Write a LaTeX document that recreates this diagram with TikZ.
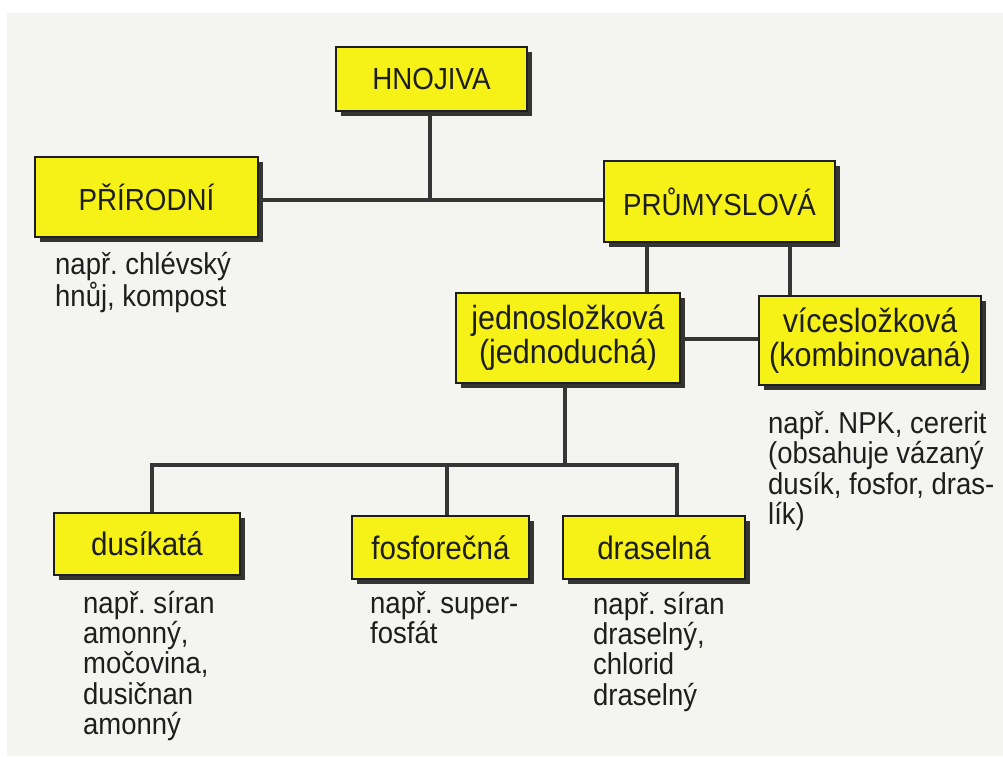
\documentclass[tikz,border=0pt]{standalone}
\usepackage{fontspec}
\setmainfont{Liberation Sans}[FakeStretch=0.91]
\usetikzlibrary{shadows,backgrounds}
\frenchspacing

\definecolor{boxyellow}{RGB}{246,242,24}
\definecolor{shadowgray}{RGB}{52,52,50}
\definecolor{ink}{RGB}{30,30,30}
\definecolor{paper}{RGB}{244,244,241}

% left-aligned note whose first baseline is the node's base
\newcommand\notelines[1]{\begin{tabular}[t]{@{}l@{}}#1\end{tabular}}

\begin{document}
\begin{tikzpicture}[x=1pt,y=-1pt,
  box/.style={draw=ink, line width=1.6pt, fill=boxyellow, inner sep=0pt,
    text=ink, align=center,
    general shadow={fill=shadowgray, shadow xshift=5pt, shadow yshift=-5pt}},
  toplabel/.style={font=\fontsize{30.5}{33}\selectfont},
  midlabel/.style={font=\fontsize{33.5}{34}\selectfont},
  lowlabel/.style={font=\fontsize{32.5}{34}\selectfont},
  note/.style={anchor=base west, inner sep=0pt, text=ink,
    font=\fontsize{30.2}{27.7}\selectfont},
  link/.style={draw=ink!90, line width=3.2pt, line join=miter}
]
\useasboundingbox (0,0) rectangle (1003,756);

% boxes
\node[box,toplabel,minimum width=191pt,minimum height=64pt] (hnojiva) at (431.5,79) {HNOJIVA};
\node[box,toplabel,minimum width=223pt,minimum height=80pt] (prirodni) at (146.5,197) {PŘÍRODNÍ};
\node[box,toplabel,minimum width=231pt,minimum height=81pt] (prumyslova) at (719.5,201.5) {PRŮMYSLOVÁ};
\node[box,midlabel,minimum width=224pt,minimum height=90pt] (jedno) at (568,338) {jednosložková\\(jednoduchá)};
\node[box,midlabel,minimum width=222pt,minimum height=89pt] (vice) at (870,340.5) {vícesložková\\(kombinovaná)};
\node[box,lowlabel,minimum width=186pt,minimum height=62pt] (dusik) at (147,544) {dusíkatá};
\node[box,lowlabel,minimum width=177pt,minimum height=63pt] (fosfor) at (440.5,547.5) {fosforečná};
\node[box,lowlabel,minimum width=182pt,minimum height=63pt] (drasel) at (654,547.5) {draselná};

% examples under the boxes
\node[note] (n1) at (55,274) {\notelines{např. chlévský\\hnůj, kompost}};
\node[note] (n2) at (768,433) {\notelines{např. NPK, cererit\\(obsahuje vázaný\\dusík, fosfor, dras-\\lík)}};
\node[note] (n3) at (83,613) {\notelines{např. síran\\amonný,\\močovina,\\dusičnan\\amonný}};
\node[note] (n4) at (370,613) {\notelines{např. super-\\fosfát}};
\node[note] (n5) at (593,614) {\notelines{např. síran\\draselný,\\chlorid\\draselný}};

\begin{scope}[on background layer]
  % paper
  \fill[white] (0,0) rectangle (1003,756);
  \fill[paper] (7,13) rectangle (1003,756);
  % tree lines
  \coordinate (t) at (430,200);
  \coordinate (m1) at (647,339);
  \coordinate (m2) at (790,339);
  \coordinate (bj) at (565,465);
  \coordinate (b1) at (152,465);
  \coordinate (b2) at (447,465);
  \coordinate (b3) at (677,465);
  \draw[link] (t |- hnojiva.center) -- (t);
  \draw[link] (prirodni.center |- t) -- (prumyslova.center |- t);
  \draw[link] (m1 |- prumyslova.center) -- (m1 |- jedno.center);
  \draw[link] (m2 |- prumyslova.center) -- (m2 |- vice.center);
  \draw[link] (jedno.center |- m1) -- (vice.center |- m1);
  \draw[link] (bj |- jedno.center) -- (bj);
  \draw[link] (b1 |- dusik.center) -- (b1) -- (b3) -- (b3 |- drasel.center);
  \draw[link] (b2) -- (b2 |- fosfor.center);
\end{scope}
\end{tikzpicture}
\end{document}
